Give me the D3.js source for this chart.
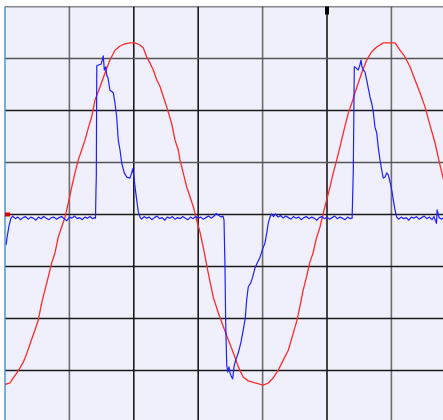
<!DOCTYPE html>
<html><head><meta charset="utf-8">
<script src="https://cdn.jsdelivr.net/npm/d3@7"></script>
<style>html,body{margin:0;padding:0;background:#fff;}svg{display:block;}</style>
</head><body>
<svg id="c" width="443" height="420"></svg>
<script>
// grid divisions (time divisions, voltage divisions)
const timeDivs = [0,1,2,3,4,5,6,7];
const voltDivs = [-4,-3,-2,-1,0,1,2,3,4];
const darkTimeDivs = [2,3,5];
const darkVoltDivs = [-3,-2,-1,0,2,4];
const triggerTime = [5];
const groundLevel = [0];

// channel 2 (red) trace: [time div, value div]
const redTrace = [
[0,-3.27],[0.078,-3.24],[0.129,-3.14],[0.182,-3.05],[0.233,-2.95],[0.284,-2.84],[0.337,-2.68],[0.388,-2.49],
[0.466,-2.22],[0.517,-2.03],[0.570,-1.70],[0.621,-1.45],[0.672,-1.20],[0.725,-0.93],[0.776,-0.74],[0.828,-0.43],
[0.880,-0.24],[0.932,-0.05],[0.983,0.22],[1.036,0.53],[1.087,0.80],[1.138,1.05],[1.191,1.24],[1.242,1.43],
[1.293,1.66],[1.346,1.88],[1.398,2.20],[1.475,2.45],[1.553,2.72],[1.630,2.97],[1.708,3.16],[1.786,3.24],
[1.863,3.28],[1.941,3.30],[2.019,3.30],[2.096,3.26],[2.148,3.20],[2.200,3.03],[2.252,2.91],[2.303,2.78],
[2.356,2.59],[2.407,2.46],[2.458,2.27],[2.511,2.07],[2.588,1.75],[2.640,1.43],[2.691,1.24],[2.717,1.05],
[2.769,0.79],[2.821,0.53],[2.873,0.34],[2.924,0.15],[2.977,-0.11],[3.028,-0.34],[3.079,-0.63],[3.157,-1.13],
[3.234,-1.59],[3.312,-1.89],[3.390,-2.16],[3.467,-2.41],[3.545,-2.66],[3.623,-2.93],[3.700,-3.13],[3.778,-3.20],
[3.882,-3.24],[4.011,-3.28],[4.089,-3.24],[4.166,-3.14],[4.244,-2.99],[4.321,-2.80],[4.399,-2.61],[4.472,-2.30],
[4.534,-2.03],[4.581,-1.76],[4.627,-1.47],[4.682,-1.20],[4.731,-0.93],[4.783,-0.74],[4.837,-0.45],[4.891,-0.24],
[4.943,0.03],[4.995,0.28],[5.047,0.53],[5.098,0.80],[5.151,1.05],[5.202,1.30],[5.253,1.57],[5.331,1.95],
[5.384,2.14],[5.435,2.34],[5.486,2.53],[5.539,2.72],[5.616,2.97],[5.694,3.13],[5.772,3.22],[5.874,3.30],
[5.978,3.30],[6.056,3.30],[6.134,3.16],[6.211,3.03],[6.289,2.84],[6.366,2.59],[6.444,2.34],[6.522,2.07],
[6.599,1.72],[6.677,1.38],[6.755,0.95],[6.817,0.63]
];

// channel 1 (blue) trace: [time div, value div]
const blueTrace = [
[0.016,-0.59],[0.031,-0.45],[0.062,-0.22],[0.093,-0.07],
[0.12,-0.03],[0.16,-0.08],[0.20,-0.05],[0.24,-0.10],[0.28,-0.06],[0.32,-0.04],[0.36,-0.09],[0.40,-0.05],
[0.44,-0.07],[0.48,-0.11],[0.52,-0.05],[0.56,-0.08],[0.60,-0.04],[0.64,-0.07],[0.68,-0.10],[0.72,-0.06],
[0.76,-0.05],[0.80,-0.09],[0.84,-0.06],[0.88,-0.04],[0.92,-0.08],[0.96,-0.12],[1.00,-0.05],[1.04,-0.07],
[1.08,-0.03],[1.12,-0.08],[1.16,-0.06],[1.20,-0.10],[1.24,-0.05],[1.28,-0.07],[1.32,-0.04],[1.36,-0.08],[1.39,-0.06],
[1.405,-0.07],[1.413,0.47],[1.418,0.74],[1.425,2.86],[1.460,2.88],[1.491,2.89],[1.511,2.97],[1.526,3.05],
[1.542,2.78],[1.564,2.84],[1.579,2.68],[1.599,2.63],[1.630,2.39],[1.682,2.34],[1.708,2.14],[1.734,1.88],
[1.759,1.43],[1.786,1.24],[1.812,0.99],[1.852,0.80],[1.890,0.72],[1.941,0.70],[1.967,0.80],[1.983,0.88],
[2.003,0.72],[2.019,0.53],[2.045,0.28],[2.070,0.05],[2.096,-0.05],
[2.12,-0.09],[2.16,-0.04],[2.20,-0.07],[2.24,-0.05],[2.28,-0.10],[2.32,-0.06],[2.36,-0.03],[2.40,-0.08],
[2.44,-0.06],[2.48,-0.11],[2.52,-0.05],[2.56,-0.07],[2.60,-0.04],[2.64,-0.09],[2.68,-0.06],[2.72,-0.08],
[2.76,-0.04],[2.80,-0.07],[2.84,-0.10],[2.88,-0.05],[2.92,-0.08],[2.96,-0.04],[3.00,-0.07],[3.04,-0.05],
[3.08,-0.09],[3.12,-0.06],[3.16,-0.03],[3.20,-0.07],[3.24,-0.04],[3.28,0.02],[3.32,-0.02],[3.36,-0.05],
[3.385,-0.03],[3.401,-0.11],[3.416,-1.01],[3.427,-2.09],[3.443,-2.89],[3.458,-3.03],[3.478,-2.93],[3.494,-3.05],
[3.520,-3.13],[3.536,-3.16],[3.556,-2.93],[3.582,-2.80],[3.623,-2.66],[3.665,-2.45],[3.700,-2.22],[3.731,-1.99],
[3.753,-1.64],[3.778,-1.39],[3.815,-1.32],[3.846,-1.20],[3.882,-1.03],[3.918,-0.93],[3.960,-0.82],[3.995,-0.68],
[4.037,-0.55],[4.064,-0.36],[4.089,-0.16],[4.115,-0.05],[4.141,0.01],
[4.17,-0.04],[4.20,0.01],[4.24,-0.05],[4.28,-0.02],[4.32,-0.07],[4.36,-0.03],[4.40,-0.06],[4.44,-0.09],
[4.48,-0.04],[4.52,-0.07],[4.56,-0.05],[4.60,-0.10],[4.64,-0.06],[4.68,-0.04],[4.72,-0.08],[4.76,-0.05],
[4.80,-0.07],[4.84,-0.11],[4.88,-0.06],[4.92,-0.04],[4.96,-0.08],[5.00,-0.05],[5.04,-0.09],[5.08,-0.06],
[5.12,-0.03],[5.16,-0.08],[5.20,-0.05],[5.24,-0.07],[5.28,-0.10],[5.32,-0.05],[5.36,-0.08],[5.39,-0.07],
[5.408,0.82],[5.424,2.84],[5.450,2.82],[5.486,2.78],[5.512,2.88],[5.528,2.97],[5.543,2.84],[5.564,2.78],
[5.590,2.74],[5.616,2.59],[5.641,2.43],[5.668,2.26],[5.694,2.14],[5.719,1.97],[5.745,1.68],[5.772,1.57],
[5.797,1.28],[5.823,1.05],[5.849,0.86],[5.874,0.70],[5.901,0.72],[5.927,0.80],[5.952,0.76],[5.978,0.63],
[6.005,0.47],[6.030,0.28],[6.056,0.09],[6.082,-0.05],
[6.11,-0.09],[6.15,-0.05],[6.19,-0.08],[6.23,-0.06],[6.27,-0.11],[6.31,-0.05],[6.35,-0.07],[6.39,-0.04],
[6.43,-0.09],[6.47,-0.06],[6.51,-0.03],[6.55,-0.08],[6.59,-0.05],[6.63,-0.10],[6.66,-0.04],[6.70,-0.17],
[6.71,0.09],[6.74,-0.06],[6.78,-0.09],[6.82,-0.05],[6.86,-0.07]
];

const svg = d3.select("#c");
const plotLeft = 5, plotTop = 6.5, divW = 64.4, divH = 52;
const x = d3.scaleLinear().domain([0, 7]).range([plotLeft, plotLeft + 7 * divW]);
const y = d3.scaleLinear().domain([-4, 4]).range([plotTop + 8 * divH, plotTop]);

svg.append("defs").append("clipPath").attr("id","plot")
  .append("rect").attr("x", plotLeft).attr("y", plotTop).attr("width", 443 - plotLeft).attr("height", 420 - plotTop);

svg.append("rect").attr("x", plotLeft).attr("y", plotTop).attr("width", 443 - plotLeft).attr("height", 420 - plotTop)
  .attr("fill", "#f0f0fc");

const g = svg.append("g").attr("clip-path", "url(#plot)");

g.selectAll(".vg").data(timeDivs.filter(d => d > 0)).join("line")
  .attr("x1", d => x(d)).attr("x2", d => x(d))
  .attr("y1", plotTop).attr("y2", 420)
  .attr("stroke", d => darkTimeDivs.includes(d) ? "#1a1a1a" : "#6c6c6c")
  .attr("stroke-width", 1.6);

g.selectAll(".hg").data(voltDivs).join("line")
  .attr("x1", plotLeft).attr("x2", 443)
  .attr("y1", d => y(d)).attr("y2", d => y(d))
  .attr("stroke", d => darkVoltDivs.includes(d) ? "#1a1a1a" : "#555")
  .attr("stroke-width", 1.6);

const line = d3.line().x(d => x(d[0])).y(d => y(d[1]));

g.append("path").datum(redTrace).attr("d", line)
  .attr("fill", "none").attr("stroke", "#ff2a2a").attr("stroke-width", 1.3)
  .attr("stroke-linejoin", "round");

g.append("path").datum(blueTrace).attr("d", line)
  .attr("fill", "none").attr("stroke", "#1f1fff").attr("stroke-width", 1.2)
  .attr("stroke-linejoin", "round");

// left border
svg.append("line").attr("x1", plotLeft).attr("x2", plotLeft).attr("y1", plotTop).attr("y2", 420)
  .attr("stroke", "#3a86cc").attr("stroke-width", 1.3);

// ground level marker (red)
svg.selectAll(".gm").data(groundLevel).join("rect")
  .attr("x", plotLeft).attr("y", d => y(d) - 2).attr("width", 5).attr("height", 4)
  .attr("fill", "#e00000");

// trigger marker (black)
svg.selectAll(".tm").data(triggerTime).join("rect")
  .attr("x", d => x(d) - 2).attr("y", plotTop).attr("width", 4).attr("height", 8)
  .attr("fill", "#000");
</script>
</body></html>
